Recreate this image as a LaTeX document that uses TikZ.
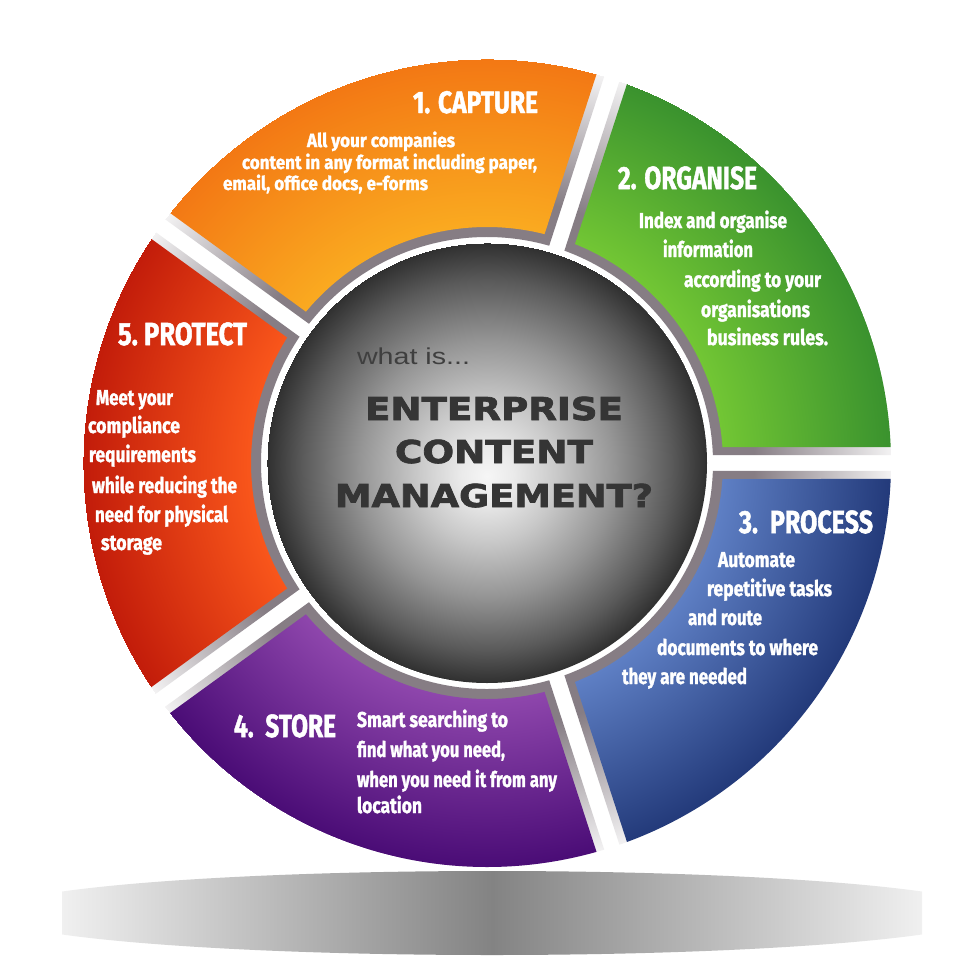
\documentclass[tikz,border=0pt]{standalone}
\usepackage{fontspec}
\usepackage{graphicx}
\setmainfont{Liberation Sans}
\newfontfamily\impfont{Fira Sans}[BoldFeatures={FakeBold=1.6}]
\newfontfamily\ctrfont{DejaVu Sans}[BoldFeatures={FakeBold=2.2}]
\definecolor{ringg}{HTML}{867D84}
\colorlet{ringend}{ringg!10!white}
\definecolor{orIn}{HTML}{FAAA20}\definecolor{orOut}{HTML}{F37814}
\definecolor{grIn}{HTML}{72C634}\definecolor{grOut}{HTML}{3A922E}
\definecolor{blIn}{HTML}{5E7FC4}\definecolor{blOut}{HTML}{233A7A}
\definecolor{puIn}{HTML}{8E46AC}\definecolor{puOut}{HTML}{4A0C76}
\definecolor{reIn}{HTML}{F9561B}\definecolor{reOut}{HTML}{C21C0A}
\definecolor{spA}{HTML}{F6F6F6}\definecolor{spB}{HTML}{EAEAEA}
\definecolor{spC}{HTML}{C8C8C8}\definecolor{spD}{HTML}{959595}
\definecolor{spE}{HTML}{5A5A5A}\definecolor{spF}{HTML}{303030}
\definecolor{shE}{HTML}{F0F0F0}\definecolor{shM}{HTML}{838383}
\definecolor{ctrtext}{HTML}{353535}\definecolor{whattext}{HTML}{3F3F3F}
% the central 50bp square of a shading covers the path: radius 25bp = path radius
\pgfdeclareradialshading{ringsh}{\pgfpoint{0bp}{0bp}}{color(0bp)=(ringg); color(16.5bp)=(ringg); color(25bp)=(ringend)}
\pgfdeclareradialshading{orsh}{\pgfpoint{0bp}{0bp}}{color(0bp)=(orIn); color(14.6bp)=(orIn); color(25bp)=(orOut)}
\pgfdeclareradialshading{grsh}{\pgfpoint{0bp}{0bp}}{color(0bp)=(grIn); color(14.6bp)=(grIn); color(25bp)=(grOut)}
\pgfdeclareradialshading{blsh}{\pgfpoint{0bp}{0bp}}{color(0bp)=(blIn); color(14.6bp)=(blIn); color(25bp)=(blOut)}
\pgfdeclareradialshading{push}{\pgfpoint{0bp}{0bp}}{color(0bp)=(puIn); color(14.6bp)=(puIn); color(25bp)=(puOut)}
\pgfdeclareradialshading{resh}{\pgfpoint{0bp}{0bp}}{color(0bp)=(reIn); color(14.6bp)=(reIn); color(25bp)=(reOut)}
\pgfdeclareradialshading{spheresh}{\pgfpoint{0bp}{-1.5bp}}{color(0bp)=(spA); color(3bp)=(spB); color(8bp)=(spC); color(14.5bp)=(spD); color(21bp)=(spE); color(25bp)=(spF)}
\pgfdeclarehorizontalshading{shadowsh}{100bp}{color(0bp)=(shE); color(28.5bp)=(shE); color(50bp)=(shM); color(71.5bp)=(shE); color(100bp)=(shE)}
% annular segment centred at angle #1 (72 deg wide), side offset #2, outer radius #3, inner radius #4
\newcommand\segpath[4]{({#1-36+asin(#2/#3)}:#3) arc[start angle={#1-36+asin(#2/#3)}, end angle={#1+36-asin(#2/#3)}, radius=#3] -- ({#1+36-asin(#2/#4)}:#4) arc[start angle={#1+36-asin(#2/#4)}, end angle={#1-36+asin(#2/#4)}, radius=#4] -- cycle }
\tikzset{
  segtxt/.style={anchor=base west, inner sep=0pt, outer sep=0pt, text=white},
  ctrtxt/.style={anchor=base west, inner sep=0pt, outer sep=0pt, text=ctrtext},
}
\newcommand\segline[6]{\node[segtxt, font={\impfont\bfseries\fontsize{#5}{#5}\selectfont}] (#1) at (#2,-#3) {\resizebox{#4pt}{\height}{#6}};}
\newcommand\ctrline[6]{\node[ctrtxt, font={#5}] (#1) at (#2,-#3) {\resizebox{#4pt}{\height}{#6}};}
\begin{document}
\begin{tikzpicture}[x=1pt,y=1pt]
\useasboundingbox (0,0) rectangle (980,-977);
\fill[white] (0,0) rectangle (980,-977);
% floor shadow
\begin{scope}
  \clip (62,-860) rectangle (922,-970);
  \shade[shading=shadowsh] (492,-913) ellipse[x radius=500, y radius=42];
\end{scope}
\begin{scope}[shift={(487,-463)}]
  % grey bevel bands
  \begin{scope}
    \clip \segpath{36}{8}{404}{226} \segpath{108}{8}{404}{226} \segpath{180}{8}{404}{226} \segpath{252}{8}{404}{226} \segpath{324}{8}{404}{226};
    \shade[shading=ringsh] (0,0) circle[radius=404];
  \end{scope}
  % coloured segments
  \begin{scope}\clip \segpath{36}{16}{404}{236};  \shade[shading=grsh] (0,0) circle[radius=404];\end{scope}
  \begin{scope}\clip \segpath{108}{16}{404}{236}; \shade[shading=orsh] (0,0) circle[radius=404];\end{scope}
  \begin{scope}\clip \segpath{180}{16}{404}{236}; \shade[shading=resh] (0,0) circle[radius=404];\end{scope}
  \begin{scope}\clip \segpath{252}{16}{404}{236}; \shade[shading=push] (0,0) circle[radius=404];\end{scope}
  \begin{scope}\clip \segpath{324}{16}{404}{236}; \shade[shading=blsh] (0,0) circle[radius=404];\end{scope}
  % central sphere
  \shade[shading=spheresh] (0,0) circle[radius=220];
\end{scope}
% centre text
\node[ctrtxt, text=whattext, font={\fontsize{23}{23}\selectfont}] (what) at (357,-364) {\resizebox{113pt}{\height}{what is...}};
\ctrline{ecm1}{365}{420}{258}{\ctrfont\bfseries\fontsize{31.5}{31.5}\selectfont}{ENTERPRISE}
\ctrline{ecm2}{395}{463}{198}{\ctrfont\bfseries\fontsize{31.5}{31.5}\selectfont}{CONTENT}
\ctrline{ecm3}{335}{507}{318}{\ctrfont\bfseries\fontsize{31.5}{31.5}\selectfont}{MANAGEMENT?}
% 1. capture
\segline{t1}{413}{113}{125}{31}{1. CAPTURE}
\segline{c1}{307}{147}{148}{19}{All your companies}
\segline{c2}{242}{169}{295}{19}{content in any format including paper,}
\segline{c3}{223}{190}{205}{19}{email, office docs, e-forms}
% 2. organise
\segline{t2}{618}{189}{139}{32}{2. ORGANISE}
\segline{o1}{639}{228}{148}{21.5}{Index and organise}
\segline{o2}{663}{257}{90}{21.5}{information}
\segline{o3}{684}{287}{137}{21.5}{according to your}
\segline{o4}{701}{317}{109}{21.5}{organisations}
\segline{o5}{707}{345}{121}{21.5}{business rules.}
% 3. process
\segline{t3}{739}{533}{134}{32}{3.\ \ PROCESS}
\segline{p1}{718}{567}{77}{21.5}{Automate}
\segline{p2}{707}{596}{125}{21.5}{repetitive tasks}
\segline{p3}{688}{625}{74}{21.5}{and route}
\segline{p4}{657}{655}{161}{21.5}{documents to where}
\segline{p5}{622}{684}{125}{21.5}{they are needed}
% 4. store
\segline{t4}{234}{737}{102}{32}{4.\ \ STORE}
\segline{s1}{357}{727}{151}{21.5}{Smart searching to}
\segline{s2}{357}{757}{148}{21.5}{find what you need,}
\segline{s3}{357}{787}{200}{21.5}{when you need it from any}
\segline{s4}{357}{813}{65}{21.5}{location}
% 5. protect
\segline{t5}{118}{345}{129}{32}{5.\ PROTECT}
\segline{r1}{96}{405}{77}{21.5}{Meet your}
\segline{r2}{88}{433}{92}{21.5}{compliance}
\segline{r3}{89}{462}{107}{21.5}{requirements}
\segline{r4}{92}{493}{145}{21.5}{while reducing the}
\segline{r5}{95}{522}{133}{21.5}{need for physical}
\segline{r6}{101}{550}{61}{21.5}{storage}
\end{tikzpicture}
\end{document}
